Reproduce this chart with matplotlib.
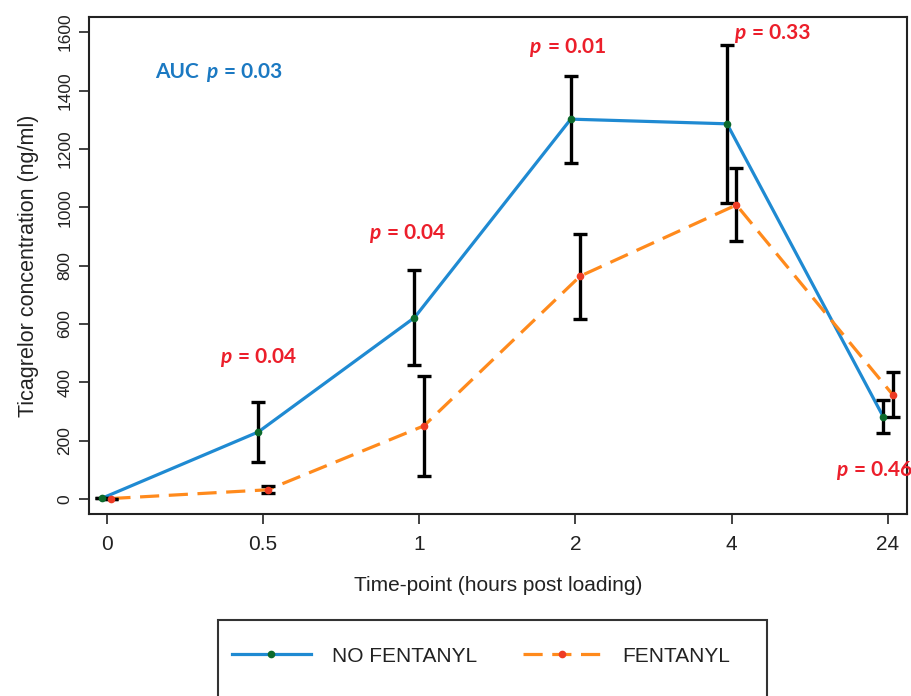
import matplotlib
matplotlib.use("Agg")
from matplotlib import pyplot as plt
from matplotlib.lines import Line2D
from matplotlib.patches import Rectangle
from matplotlib.offsetbox import TextArea, HPacker, AnnotationBbox
import numpy as np

# data
timepoints = ["0", "0.5", "1", "2", "4", "24"]
no_fent = [3, 230, 622, 1302, 1286, 282]
no_fent_err = [0, 103, 163, 149, 270, 57]
fent = [2, 32, 251, 764, 1008, 358]
fent_err = [0, 12, 171, 146, 125, 77]

# p-value labels and where they sit (category index, concentration)
p_labels = ["0.04", "0.04", "0.01", "0.33", "0.46"]
p_x = [0.97, 1.92, 2.95, 4.26, 4.91]
p_y = [488, 912, 1550, 1597, 100]
auc_label = "0.03"
auc_xy = (0.72, 1464)

BLUE = "#1f8ad2"
ORANGE = "#ff8a1c"
RED_TXT = "#ec1f2b"
BLUE_TXT = "#1b79c2"
GREEN_MK = "#0c6a2c"
RED_MK = "#ee3b24"

plt.rcParams["font.family"] = ["Liberation Sans", "DejaVu Sans"]

fig = plt.figure(figsize=(9.11, 6.96), dpi=100)
ax = fig.add_axes([0.0977, 0.2615, 0.8976, 0.7145])

x = np.arange(len(timepoints))
off = 0.03
ax.errorbar(x - off, no_fent, yerr=no_fent_err, fmt="none", ecolor="black",
            elinewidth=2.4, capsize=5, capthick=2.4, zorder=3)
ax.errorbar(x + off, fent, yerr=fent_err, fmt="none", ecolor="black",
            elinewidth=2.4, capsize=5, capthick=2.4, zorder=3)
ax.plot(x - off, no_fent, color=BLUE, lw=2.3, zorder=2)
ax.plot(x + off, fent, color=ORANGE, lw=2.3, ls=(0, (6, 3)), zorder=2)
ax.plot(x - off, no_fent, ls="none", marker="o", ms=4.5, color=GREEN_MK, zorder=4)
ax.plot(x + off, fent, ls="none", marker="o", ms=4.5, color=RED_MK, zorder=4)

ax.set_xlim(-0.113, 5.12)
ax.set_ylim(-51, 1653)
ax.set_xticks(x)
ax.set_xticklabels(timepoints)
ax.set_yticks(range(0, 1601, 200))
ax.tick_params(axis="x", labelsize=15, length=7, width=1.2, pad=8, colors="#222222")
ax.tick_params(axis="y", labelsize=12.5, length=7, width=1.2, pad=5, labelrotation=90,
               colors="#222222")
for lab in ax.get_yticklabels():
    lab.set_va("center")
for s in ax.spines.values():
    s.set_linewidth(1.5)
    s.set_color("#222222")

ax.set_xlabel("Time-point (hours post loading)", fontsize=15, labelpad=16, color="#222222")
ax.set_ylabel("Ticagrelor concentration (ng/ml)", fontsize=15.5, labelpad=13, color="#222222")


def pbox(parts, color):
    areas = []
    for txt, style in parts:
        areas.append(TextArea(txt, textprops=dict(family=["Lato", "DejaVu Sans"],
                                                  fontsize=15, weight="bold",
                                                  style=style, color=color)))
    return HPacker(children=areas, align="baseline", pad=0, sep=5)


for lab, px, py in zip(p_labels, p_x, p_y):
    box = pbox([("p", "italic"), ("= " + lab, "normal")], RED_TXT)
    ab = AnnotationBbox(box, (px, py), frameon=False, box_alignment=(0.5, 0.5),
                        annotation_clip=False, zorder=5)
    ax.add_artist(ab)

box = pbox([("AUC", "normal"), ("p", "italic"), ("= " + auc_label, "normal")], BLUE_TXT)
ax.add_artist(AnnotationBbox(box, auc_xy, frameon=False, box_alignment=(0.5, 0.5),
                             annotation_clip=False, zorder=5))

# legend box runs off the bottom of the figure
fig.patches.append(Rectangle((218 / 911, -0.05), (767 - 218) / 911, 0.05 + 1 - 620 / 696,
                             transform=fig.transFigure, fill=False, ec="#333333", lw=1.5))
handles = [
    Line2D([], [], color=BLUE, lw=2.3, marker="o", ms=4.5, mfc=GREEN_MK, mec=GREEN_MK),
    Line2D([], [], color=ORANGE, lw=2.3, ls=(0, (6, 3)), marker="o", ms=4.5,
           mfc=RED_MK, mec=RED_MK),
]
fig.legend(handles, ["NO FENTANYL", "FENTANYL"], loc="center",
           bbox_to_anchor=(0.528, 1 - 656 / 696), ncol=2, frameon=False,
           fontsize=15, handlelength=3.8, columnspacing=2.2, handletextpad=1.0,
           labelcolor="#222222")

fig.savefig("out.png", dpi=100)
